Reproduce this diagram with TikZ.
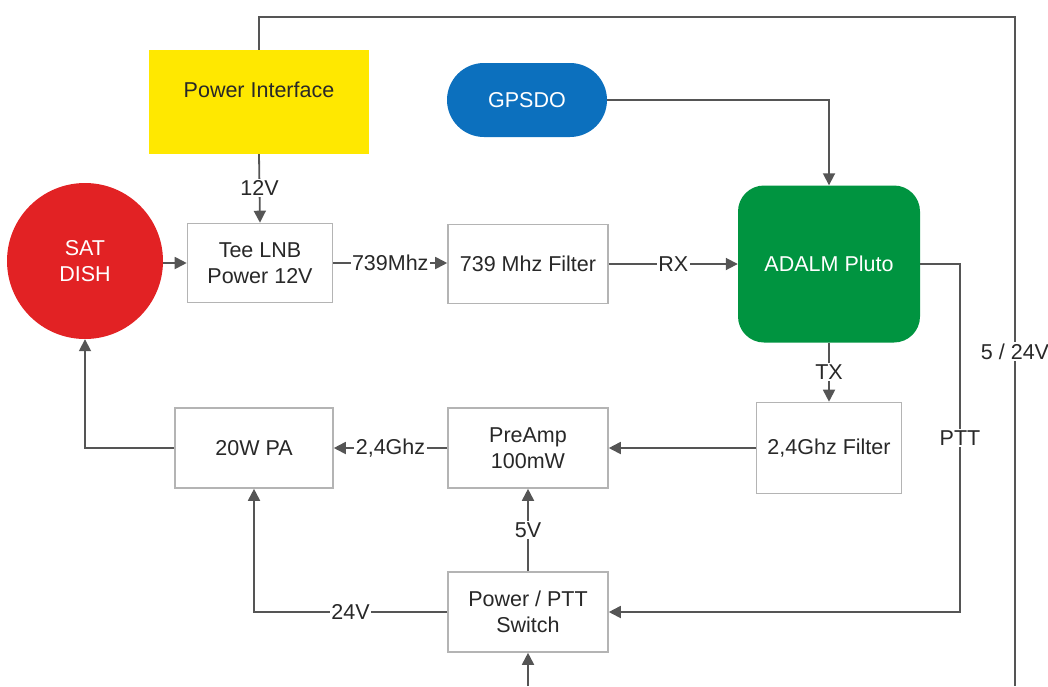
\documentclass[tikz,border=0pt]{standalone}
\usepackage{fontspec}
\setmainfont{Liberation Sans}
\usetikzlibrary{arrows.meta}
\definecolor{piyellow}{RGB}{255,232,0}
\definecolor{satred}{RGB}{226,34,36}
\definecolor{gpsblue}{RGB}{12,112,190}
\definecolor{plutogreen}{RGB}{0,148,64}
\definecolor{linegray}{RGB}{85,85,85}
\definecolor{boxgray}{RGB}{180,180,180}
\definecolor{txt}{RGB}{40,40,40}
\begin{document}
\begin{tikzpicture}[x=1pt,y=-1pt,
  every node/.style={font=\fontsize{21.5}{26}\selectfont, text=txt},
  wbox/.style={draw=boxgray, line width=1.6pt, fill=white, inner sep=0pt, align=center},
  conn/.style={draw=linegray, line width=1.8pt, -{Triangle[length=12pt,width=12pt]}},
  plain/.style={draw=linegray, line width=1.8pt},
  lbl/.style={fill=white, inner sep=1.5pt}]
\useasboundingbox (0,0) rectangle (1048,686);
% nodes
\node[circle, fill=satred, minimum size=156pt, inner sep=0pt, align=center, text=white] (sat) at (85,261) {SAT\\DISH};
\node[wbox, minimum width=145pt, minimum height=79pt] (tee) at (260,263) {Tee LNB\\Power 12V};
\node[wbox, minimum width=160pt, minimum height=79pt] (f739) at (528,264) {739 Mhz Filter};
\node[rounded corners=26pt, fill=plutogreen, minimum width=182pt, minimum height=157pt, text=white] (pluto) at (829,264) {ADALM Pluto};
\node[fill=piyellow, minimum width=220pt, minimum height=104pt] (pi) at (259,102) {};
\node (pitext) at (259,90) {Power Interface};
\node[rounded corners=37pt, fill=gpsblue, minimum width=160pt, minimum height=74pt, text=white] (gps) at (527,100) {GPSDO};
\node[wbox, minimum width=145pt, minimum height=91pt] (f24) at (829,448) {2,4Ghz Filter};
\node[wbox, minimum width=160pt, minimum height=80pt] (pre) at (528,448) {PreAmp\\100mW};
\node[wbox, minimum width=158pt, minimum height=80pt] (pa) at (254,448) {20W PA};
\node[wbox, minimum width=160pt, minimum height=80pt] (sw) at (528,612) {Power / PTT\\Switch};
% coordinates
\coordinate (pwtop) at (259,17);
\coordinate (pwr) at (1015,17);
\coordinate (pwbot) at (1015,686);
\coordinate (pttc) at (960,264);
\coordinate (swin) at (528,686);
% connectors
\draw[conn] (pi.south) -- node[lbl]{12V} (tee.north);
\draw[conn] (sat.east |- tee.west) -- (tee.west);
\draw[conn] (tee.east) -- node[lbl]{739Mhz} (tee.east -| f739.west);
\draw[conn] (f739) -- node[lbl]{RX} (pluto);
\draw[conn] (gps.east) -| (pluto.north);
\draw[conn] (pluto) -- node[lbl]{TX} (f24);
\draw[conn] (f24) -- (pre);
\draw[conn] (pre) -- node[lbl]{2,4Ghz} (pa);
\draw[conn] (pa.west) -| (sat.south);
\draw[conn] (sw) -- node[lbl]{5V} (pre);
\draw[conn] (sw.west) -| node[lbl, pos=0.25]{24V} (pa.south);
\draw[conn] (pluto.east) -- (pttc) |- node[lbl, pos=0.25]{PTT} (sw.east);
\draw[plain] (pi.north) -- (pwtop) -- (pwr) -- node[lbl]{5 / 24V} (pwbot);
\draw[conn] (swin) -- (sw.south);
\end{tikzpicture}
\end{document}
